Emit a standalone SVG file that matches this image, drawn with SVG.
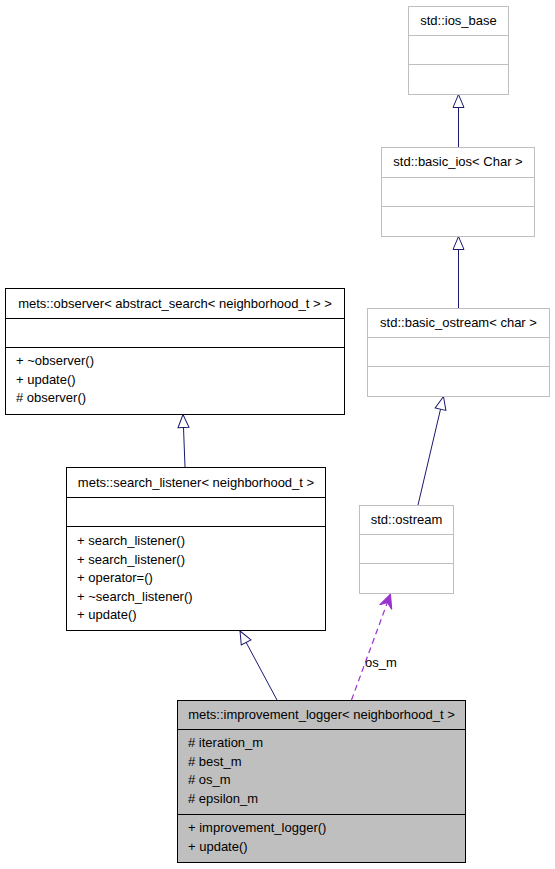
<svg xmlns="http://www.w3.org/2000/svg" width="555" height="869" viewBox="0 0 555 869">
<style>
text{font-family:"Liberation Sans",Arial,sans-serif;font-size:13px;fill:#000}
.c{text-anchor:middle}
.g{fill:#fff;stroke:#bfbfbf;stroke-width:1}
.k{fill:#fff;stroke:#000;stroke-width:1}
.kf{fill:#bfbfbf;stroke:#000;stroke-width:1}
.gl{stroke:#bfbfbf;stroke-width:1}
.kl{stroke:#000;stroke-width:1}
.e{fill:none;stroke:#191970;stroke-width:1;marker-end:url(#tri)}
.d{fill:none;stroke:#9a32cd;stroke-width:1.2;stroke-dasharray:6,4;marker-end:url(#vee)}
</style>
<defs>
<marker id="tri" markerUnits="userSpaceOnUse" markerWidth="16" markerHeight="14" viewBox="-14 -7 16 14" refX="0" refY="0" orient="auto" overflow="visible">
<path d="M0,0 L-13,-5.5 L-13,5.5 Z" fill="#fff" stroke="#191970" stroke-width="1"/>
</marker>
<marker id="vee" markerUnits="userSpaceOnUse" markerWidth="16" markerHeight="16" viewBox="-15 -8 16 16" refX="0" refY="0" orient="auto" overflow="visible">
<path d="M0,0 L-14,-6.5 L-9,0 L-14,6.5 Z" fill="#9a32cd" stroke="#9a32cd" stroke-width="1"/>
</marker>
</defs>
<g id="edges">
<path class="e" d="M458.5,147 L458.5,94.5"/>
<path class="e" d="M458.5,308 L458.5,236.5"/>
<path class="e" d="M418,505 L443.5,396.5"/>
<path class="e" d="M185,467 L183,414.5"/>
<path class="e" d="M277,700 L240,631"/>
<path class="d" d="M351.5,700 L390.5,594"/>
<text x="365" y="667">os_m</text>
</g>
<g id="ios_base">
<rect class="g" x="408.5" y="6.5" width="100" height="88"/>
<line class="gl" x1="408.5" y1="35.5" x2="508.5" y2="35.5"/>
<line class="gl" x1="408.5" y1="64.5" x2="508.5" y2="64.5"/>
<text class="c" x="458.5" y="25">std::ios_base</text>
</g>
<g id="basic_ios">
<rect class="g" x="381.5" y="147.5" width="153" height="89"/>
<line class="gl" x1="381.5" y1="177.5" x2="534.5" y2="177.5"/>
<line class="gl" x1="381.5" y1="206.5" x2="534.5" y2="206.5"/>
<text class="c" x="458" y="166">std::basic_ios&lt; Char &gt;</text>
</g>
<g id="basic_ostream">
<rect class="g" x="367.5" y="308.5" width="182" height="88"/>
<line class="gl" x1="367.5" y1="337.5" x2="549.5" y2="337.5"/>
<line class="gl" x1="367.5" y1="366.5" x2="549.5" y2="366.5"/>
<text class="c" x="458.5" y="327">std::basic_ostream&lt; char &gt;</text>
</g>
<g id="ostream">
<rect class="g" x="359.5" y="505.5" width="94" height="88"/>
<line class="gl" x1="359.5" y1="534.5" x2="453.5" y2="534.5"/>
<line class="gl" x1="359.5" y1="563.5" x2="453.5" y2="563.5"/>
<text class="c" x="406.5" y="524">std::ostream</text>
</g>
<g id="observer">
<rect class="k" x="5.5" y="288.5" width="339" height="126"/>
<line class="kl" x1="5.5" y1="318.5" x2="344.5" y2="318.5"/>
<line class="kl" x1="5.5" y1="347.5" x2="344.5" y2="347.5"/>
<text class="c" x="175" y="308">mets::observer&lt; abstract_search&lt; neighborhood_t &gt; &gt;</text>
<text x="16" y="365">+ ~observer()</text>
<text x="16" y="383.5">+ update()</text>
<text x="16" y="402"># observer()</text>
</g>
<g id="search_listener">
<rect class="k" x="66.5" y="467.5" width="259" height="163"/>
<line class="kl" x1="66.5" y1="497.5" x2="325.5" y2="497.5"/>
<line class="kl" x1="66.5" y1="526.5" x2="325.5" y2="526.5"/>
<text class="c" x="196" y="487">mets::search_listener&lt; neighborhood_t &gt;</text>
<text x="77" y="545">+ search_listener()</text>
<text x="77" y="563.5">+ search_listener()</text>
<text x="77" y="582">+ operator=()</text>
<text x="77" y="600.5">+ ~search_listener()</text>
<text x="77" y="619">+ update()</text>
</g>
<g id="improvement_logger">
<rect class="kf" x="177.5" y="700.5" width="288" height="162"/>
<line class="kl" x1="177.5" y1="729.5" x2="465.5" y2="729.5"/>
<line class="kl" x1="177.5" y1="814.5" x2="465.5" y2="814.5"/>
<text class="c" x="321.5" y="719">mets::improvement_logger&lt; neighborhood_t &gt;</text>
<text x="188" y="747"># iteration_m</text>
<text x="188" y="765.5"># best_m</text>
<text x="188" y="784"># os_m</text>
<text x="188" y="802.5"># epsilon_m</text>
<text x="188" y="832">+ improvement_logger()</text>
<text x="188" y="850.5">+ update()</text>
</g>
</svg>
